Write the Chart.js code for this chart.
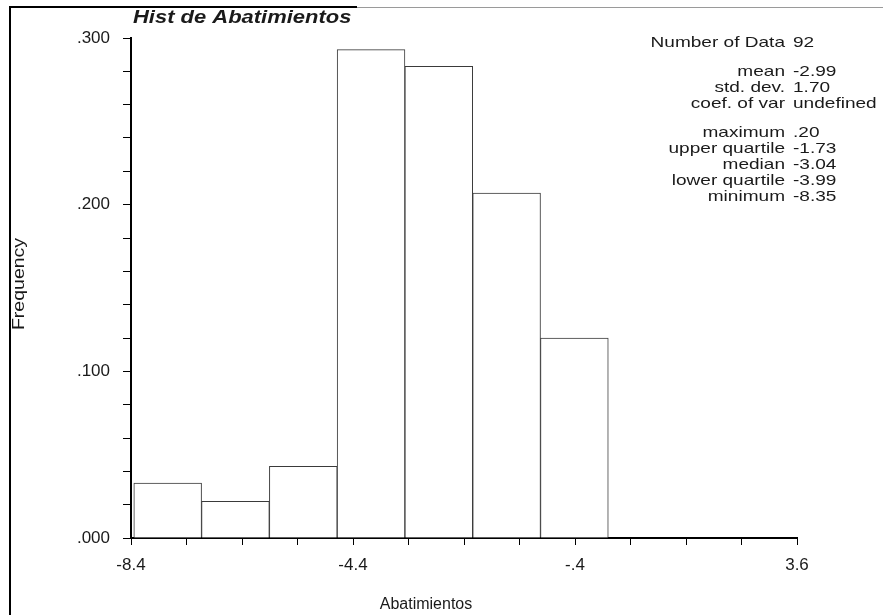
<!DOCTYPE html>
<html>
<head>
<meta charset="utf-8">
<script src="https://cdn.jsdelivr.net/npm/chart.js@4/dist/chart.umd.min.js"></script>
<style>
  html, body { margin: 0; padding: 0; background: #fff; }
  #wrap { width: 883px; height: 615px; position: relative; }
</style>
</head>
<body>
<div id="wrap"><canvas id="hist" width="883" height="615"></canvas></div>
<script>
/* ---- Data ---- */
const binCenters  = [-7.739, -6.518, -5.296, -4.075, -2.854, -1.632, -0.411];
const frequencies = [0.033, 0.022, 0.043, 0.293, 0.283, 0.207, 0.120];

const xTickValues = [-8.4, -7.4, -6.4, -5.4, -4.4, -3.4, -2.4, -1.4, -0.4, 0.6, 1.6, 2.6, 3.6];
const xTickLabels = ['-8.4', '', '', '', '-4.4', '', '', '', '-.4', '', '', '', '3.6'];
const yTickValues = [0, 0.02, 0.04, 0.06, 0.08, 0.1, 0.12, 0.14, 0.16, 0.18, 0.2, 0.22, 0.24, 0.26, 0.28, 0.3];
const yTickLabels = ['.000', '', '', '', '', '.100', '', '', '', '', '.200', '', '', '', '', '.300'];

const statLabels = ['Number of Data', 'mean', 'std. dev.', 'coef. of var', 'maximum', 'upper quartile', 'median', 'lower quartile', 'minimum'];
const statValues = ['92', '-2.99', '1.70', 'undefined', '.20', '-1.73', '-3.04', '-3.99', '-8.35'];
const statRowY   = [43, 72, 88, 104, 133, 149, 165, 181, 197];

const FONT = '"Liberation Sans", Arial, sans-serif';
const INK  = '#1a1a1a';

/* the scanned original is stretched sideways, so text is widened a bit */
function wideText(c, text, x, y, align, stretch) {
  c.save();
  c.translate(x, y);
  c.scale(stretch, 1);
  c.textAlign = align;
  c.fillText(text, 0, 0);
  c.restore();
}

/* ---- Frame + annotation text ---- */
const decorations = {
  id: 'decorations',
  beforeDraw(chart) {
    const c = chart.ctx;
    c.save();
    c.strokeStyle = '#9a9a9a';
    c.lineWidth = 1;
    c.beginPath();
    c.moveTo(357, 7.5); c.lineTo(883, 7.5);
    c.stroke();
    c.strokeStyle = '#000';
    c.lineWidth = 2;
    c.beginPath();
    c.moveTo(357, 7); c.lineTo(10, 7); c.lineTo(10, 615);
    c.stroke();
    c.restore();
  },
  afterDraw(chart) {
    const c = chart.ctx;
    const area = chart.chartArea;
    c.save();
    c.fillStyle = INK;
    c.textBaseline = 'middle';

    // title
    c.font = 'bold italic 18px ' + FONT;
    wideText(c, 'Hist de Abatimientos', area.left + 2, 18, 'left', 1.22);

    // axis titles
    c.font = '16px ' + FONT;
    wideText(c, 'Abatimientos', 426, 605, 'center', 1);
    c.save();
    c.translate(20, 284);
    c.rotate(-Math.PI / 2);
    wideText(c, 'Frequency', 0, 0, 'center', 1.22);
    c.restore();

    // statistics block
    c.font = '15px ' + FONT;
    statLabels.forEach((lab, i) => {
      wideText(c, lab, 785, statRowY[i], 'right', 1.27);
      wideText(c, statValues[i], 793, statRowY[i], 'left', 1.27);
    });
    c.restore();
  },
};

new Chart(document.getElementById('hist'), {
  type: 'bar',
  data: {
    datasets: [{
      xAxisID: 'bins',
      data: binCenters.map((x, i) => ({ x, y: frequencies[i] })),
      backgroundColor: '#ffffff',
      borderColor: '#3a3a3a',
      borderWidth: 1,
      barPercentage: 1,
      categoryPercentage: 1,
    }],
  },
  options: {
    responsive: false,
    devicePixelRatio: 1,
    animation: false,
    layout: { padding: { top: 38, right: 86, left: 0, bottom: 0 } },
    plugins: {
      legend: { display: false },
      tooltip: { enabled: false },
      title: { display: false },
    },
    scales: {
      // hidden axis whose ticks sit on the bin centres, so bars span a full bin
      bins: {
        type: 'linear',
        position: 'bottom',
        display: false,
        min: -8.4,
        max: 3.6,
        offset: false,
        afterBuildTicks: (scale) => { scale.ticks = binCenters.map((value) => ({ value })); },
      },
      x: {
        type: 'linear',
        position: 'bottom',
        min: -8.4,
        max: 3.6,
        offset: false,
        afterBuildTicks: (scale) => { scale.ticks = xTickValues.map((value) => ({ value })); },
        afterFit: (scale) => { scale.height = 77; },
        border: { color: '#000', width: 2 },
        grid: { offset: false, drawOnChartArea: false, drawTicks: true, tickLength: 7, color: '#000' },
        ticks: {
          autoSkip: false,
          maxRotation: 0,
          padding: 10,
          color: INK,
          font: { family: FONT, size: 17 },
          callback: (v, i) => xTickLabels[i],
        },
      },
      y: {
        min: 0,
        max: 0.3,
        afterBuildTicks: (scale) => { scale.ticks = yTickValues.map((value) => ({ value })); },
        afterFit: (scale) => { scale.width = 131; },
        border: { color: '#000', width: 2 },
        grid: { drawOnChartArea: false, drawTicks: true, tickLength: 8, color: '#000' },
        ticks: {
          autoSkip: false,
          padding: 13,
          color: INK,
          font: { family: FONT, size: 17 },
          callback: (v, i) => yTickLabels[i],
        },
      },
    },
  },
  plugins: [decorations],
});
</script>
</body>
</html>
